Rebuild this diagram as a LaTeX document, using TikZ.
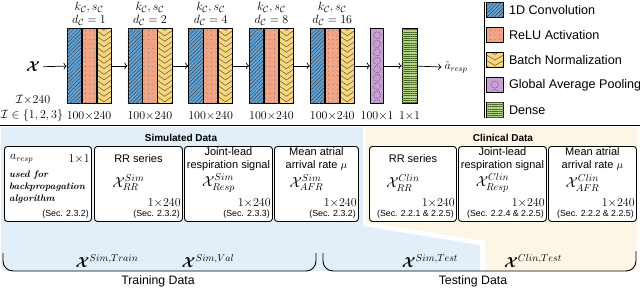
\documentclass[tikz,border=0pt]{standalone}
\usepackage{amsmath}
\usepackage{fontspec}
\setsansfont{Liberation Sans}
\usetikzlibrary{arrows.meta,calc,positioning,patterns.meta}

\definecolor{convblue}{RGB}{98,164,216}
\definecolor{reluorange}{RGB}{240,164,134}
\definecolor{bnyellow}{RGB}{250,214,122}
\definecolor{gappurple}{RGB}{200,160,214}
\definecolor{densegreen}{RGB}{182,212,134}
\definecolor{simbg}{RGB}{226,239,248}
\definecolor{clinbg}{RGB}{253,246,230}

\begin{document}
\begin{tikzpicture}[x=1pt, y=-1pt,
    blk/.style={draw, line width=0.7pt, minimum width=14.2, minimum height=75, inner sep=0pt},
    convbox/.style={blk, fill=convblue, postaction={pattern={Lines[angle=45,distance=2.6pt,line width=0.45pt]}, pattern color=black!75}},
    relubox/.style={blk, fill=reluorange, postaction={pattern={Dots[distance=4.5pt,radius=0.45pt]}, pattern color=black!65}},
    bnbox/.style={blk, fill=bnyellow, path picture={
        \foreach \c in {0,...,16} {
            \draw[black!70, line width=0.45pt]
                ($(path picture bounding box.north west)+(0,\c*5.5-3)$) --
                ($(path picture bounding box.north)+(0,\c*5.5+2)$) --
                ($(path picture bounding box.north east)+(0,\c*5.5-3)$);
        }}},
    gapbox/.style={blk, fill=gappurple, path picture={
        \foreach \c in {0,...,9} {
            \draw[black!70, line width=0.45pt, dash pattern=on 1.2pt off 1pt]
                ($(path picture bounding box.north)+(0,\c*8.5+7)$) circle[radius=3.6pt];
        }}},
    densebox/.style={blk, fill=densegreen, postaction={pattern={Lines[angle=0,distance=2.2pt,line width=0.5pt]}, pattern color={rgb,255:red,70;green,100;blue,40}}},
    databox/.style={draw, line width=0.9pt, rounded corners=3pt, fill=white, minimum height=75, inner sep=0pt, anchor=north west},
    mth/.style={font=\fontsize{12}{14}\selectfont, inner sep=0pt},
    hdr/.style={font=\fontsize{13}{15}\selectfont, inner sep=0pt},
    ttl/.style={font=\fontsize{11}{13.5}\selectfont\sffamily, align=center, inner sep=0pt},
    sec/.style={font=\fontsize{8.8}{10}\selectfont\sffamily, inner sep=0pt},
    leg/.style={font=\fontsize{12.6}{15}\selectfont\sffamily, inner sep=0pt},
    big/.style={font=\fontsize{12.3}{14}\selectfont\sffamily, inner sep=0pt},
    setx/.style={font=\fontsize{13.8}{16}\selectfont, inner sep=0pt},
    ]

    \useasboundingbox (0,0) rectangle (640,287);

    % 背景
    \fill[simbg] (1,127) -- (363,127) -- (363,226) -- (480,245) -- (480,271)
        -- (11,271) .. controls (1,271) .. (1,261) -- cycle;
    \fill[clinbg] (366,127) -- (637,127) -- (637,261) .. controls (637,271) .. (627,271)
        -- (485,271) -- (485,241) -- (366,222) -- cycle;
    \draw[line width=0.7pt] (0,125) -- (640,125);
    \draw[line width=0.7pt] (484,2) -- (484,118);

    % 入力
    \node[font=\Large] (xin) at (33,67) {$\boldsymbol{\mathcal{X}}$};
    \node[mth] (insz) at (33,100) {$\mathcal{I}{\times}240$};
    \node[mth] (inset) at (32,115) {$\mathcal{I}\in\{1,2,3\}$};

    % 畳み込みブロック
    \foreach \i/\dil in {1/1,2/2,3/4,4/8,5/16} {
        \pgfmathsetmacro{\xo}{66.7+(\i-1)*60.8}
        \node[convbox, anchor=north west] (conv\i) at (\xo,28) {};
        \node[relubox, anchor=west] (relu\i) at (conv\i.east) {};
        \node[bnbox, anchor=west] (bn\i) at (relu\i.east) {};
        \node[hdr] (dil\i) at ($(relu\i.north)+(0,-8)$) {$d_{\mathcal{C}}=\dil$};
        \node[hdr] (ks\i) at ($(relu\i.north)+(0,-21)$) {$k_{\mathcal{C}}, s_{\mathcal{C}}$};
        \node[mth] (sz\i) at ($(relu\i.south)+(0,12)$) {$100{\times}240$};
    }
    \node[gapbox, minimum width=13.4, anchor=north west] (gap) at (370,28) {};
    \node[densebox, minimum width=15, anchor=north west] (dense) at (401.7,28) {};
    \node[mth] (gapsz) at ($(gap.south)+(0,12)$) {$100{\times}1$};
    \node[mth] (densesz) at ($(dense.south)+(0,12)$) {$1{\times}1$};
    \node[mth] (out) at (456,67) {$\hat{a}_{resp}$};

    \draw[->, line width=0.7pt] (xin) -- (conv1);
    \foreach \i/\j in {1/2,2/3,3/4,4/5} {
        \draw[->, line width=0.7pt] (bn\i) -- (conv\j);
    }
    \draw[->, line width=0.7pt] (bn5) -- (gap);
    \draw[->, line width=0.7pt] (gap) -- (dense);
    \draw[->, line width=0.7pt] (dense) -- ([xshift=-3pt]out.west);

    % 凡例
    \foreach \k/\sty/\txt in {0/convbox/1D Convolution, 1/relubox/ReLU Activation,
            2/bnbox/Batch Normalization, 3/gapbox/Global Average Pooling, 4/densebox/Dense} {
        \node[\sty, minimum width=17, minimum height=15] (lg\k) at (495,10+\k*25) {};
        \node[leg, right=5pt of lg\k] (lgt\k) {\txt};
    }

    % データ
    \node[font=\sffamily\bfseries, inner sep=0pt] (simttl) at (181,138) {Simulated Data};
    \node[font=\sffamily\bfseries, inner sep=0pt] (clinttl) at (503,138) {Clinical Data};

    \node[databox, minimum width=87] (target) at (4,146) {};
    \node[mth, anchor=west] (target-a) at ($(target.north west)+(6,13)$) {$a_{resp}$};
    \node[mth, anchor=east] (target-s) at ($(target.north east)+(-2,13)$) {$1{\times}1$};
    \node[anchor=north west, align=left, inner sep=0pt, font=\fontsize{9.5}{12}\selectfont\bfseries\itshape]
        (target-u) at ($(target.north west)+(5,25)$) {used for\\backpropagation\\algorithm};
    \node[sec, anchor=east] (target-c) at ($(target.north east)+(-3,68)$) {(Sec. 2.3.2)};

    \foreach \nm/\l/\r/\ds/\sub/\ttltxt/\secno in {
            simrr/94/182/Sim/RR/{RR series}/2.3.2,
            simresp/184/272/Sim/Resp/{Joint-lead\\respiration signal}/2.3.3,
            simafr/274/358/Sim/AFR/{Mean atrial\\arrival rate $\mu$}/2.3.2,
            clinrr/369/456/Clin/RR/{RR series}/2.2.1 \& 2.2.5,
            clinresp/458/546/Clin/Resp/{Joint-lead\\respiration signal}/2.2.4 \& 2.2.5,
            clinafr/548/636/Clin/AFR/{Mean atrial\\arrival rate $\mu$}/2.2.2 \& 2.2.5} {
        \pgfmathsetmacro{\w}{\r-\l}
        \node[databox, minimum width=\w] (\nm) at (\l,146) {};
        \node[ttl] (\nm-t) at ($(\nm.north)+(0,13)$) {\ttltxt};
        \node[font=\Large, inner sep=0pt] (\nm-x) at ($(\nm.north)+(-10,37)$) {$\mathcal{X}^{\ds}_{\sub}$};
        \node[mth, anchor=east] (\nm-s) at ($(\nm.north east)+(-2,57.5)$) {$1{\times}240$};
        \node[sec, anchor=east] (\nm-c) at ($(\nm.north east)+(-3,68.5)$) {(Sec. \secno)};
    }

    % 分割
    \node[setx] (xtrain) at (107,261) {$\boldsymbol{\mathcal{X}}^{Sim,Train}$};
    \node[setx] (xval) at (208,261) {$\boldsymbol{\mathcal{X}}^{Sim,Val}$};
    \node[setx] (xsimtest) at (430,261) {$\boldsymbol{\mathcal{X}}^{Sim,Test}$};
    \node[setx] (xclintest) at (533,261) {$\boldsymbol{\mathcal{X}}^{Clin,Test}$};

    \draw[line width=0.9pt, rounded corners=10pt] (3,253) -- (3,271) -- (316,271) -- (316,253);
    \draw[line width=0.9pt, rounded corners=10pt] (323,253) -- (323,271) -- (636,271) -- (636,251);
    \node[big] (train) at (158,281) {Training Data};
    \node[big] (test) at (473,281) {Testing Data};

\end{tikzpicture}
\end{document}
